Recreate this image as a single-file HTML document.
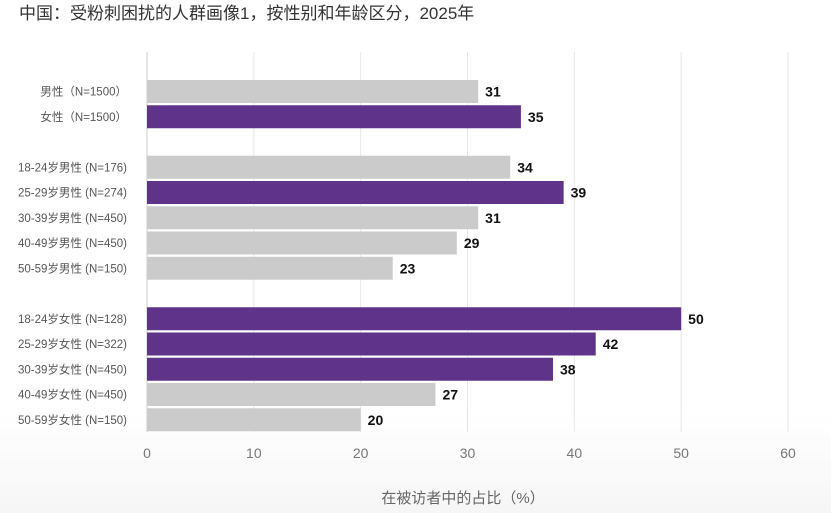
<!DOCTYPE html>
<html><head><meta charset="utf-8"><style>
html,body{margin:0;padding:0;background:#fff;}
svg{display:block;font-family:"Liberation Sans","Noto Sans CJK SC",sans-serif;}
</style></head><body>
<svg id="chart" width="831" height="513">
<defs><linearGradient id="bg" x1="0" y1="0" x2="0" y2="1"><stop offset="0.8" stop-color="#ffffff"/><stop offset="1" stop-color="#f6f6f6"/></linearGradient></defs>
<rect width="831" height="513" fill="url(#bg)"/>
<text x="19" y="19" font-size="17" fill="#333">中国：受粉刺困扰的人群画像1，按性别和年龄区分，2025年</text>
<g id="grid"></g><g id="bars"></g>
<text x="463" y="503" font-size="15" fill="#666" text-anchor="middle">在被访者中的占比（%）</text>
</svg>
<script>
const categories=["男性（N=1500）","女性（N=1500）","18-24岁男性 (N=176)","25-29岁男性 (N=274)","30-39岁男性 (N=450)","40-49岁男性 (N=450)","50-59岁男性 (N=150)","18-24岁女性 (N=128)","25-29岁女性 (N=322)","30-39岁女性 (N=450)","40-49岁女性 (N=450)","50-59岁女性 (N=150)"];
const values=[31,35,34,39,31,29,23,50,42,38,27,20];
const highlighted=[false,true,false,true,false,false,false,true,true,true,false,false];
const slots=[0,1,3,4,5,6,7,9,10,11,12,13];
const ticks=[0,10,20,30,40,50,60];
const NS="http://www.w3.org/2000/svg";
const x0=147,x1=788,xmax=60;
const xs=v=>x0+(x1-x0)*v/xmax;
const ys=s=>91.5+25.25*s;
const grid=document.getElementById('grid'),bars=document.getElementById('bars');
function mk(tag,attrs,parent){const e=document.createElementNS(NS,tag);for(const k in attrs)e.setAttribute(k,attrs[k]);parent.appendChild(e);return e;}
ticks.forEach((t,i)=>{
  const l=mk('line',{x1:xs(t),x2:xs(t),y1:52,y2:432,stroke:i===0?'#ccc':'#e6e6e6','stroke-width':1},grid);
  
  
  const tx=mk('text',{x:xs(t),y:458,'font-size':14,fill:'#777','text-anchor':'middle'},grid);
  tx.textContent=t;
  
  
});
values.forEach((v,i)=>{
  const cy=ys(slots[i]);
  const r=mk('rect',{x:x0,y:cy-11.5,width:xs(v)-x0,height:23,fill:highlighted[i]?'#5e3389':'#cbcbcb'},bars);
  
  
  const vl=mk('text',{x:xs(v)+7,y:cy+5,'font-size':14,'font-weight':'bold',fill:'#111'},bars);
  vl.textContent=v;
  
  
  const cl=mk('text',{x:127,y:cy+4,'font-size':11.5,fill:'#555','text-anchor':'end'},bars);
  cl.textContent=categories[i];
  
  
});
</script>
</body></html>
